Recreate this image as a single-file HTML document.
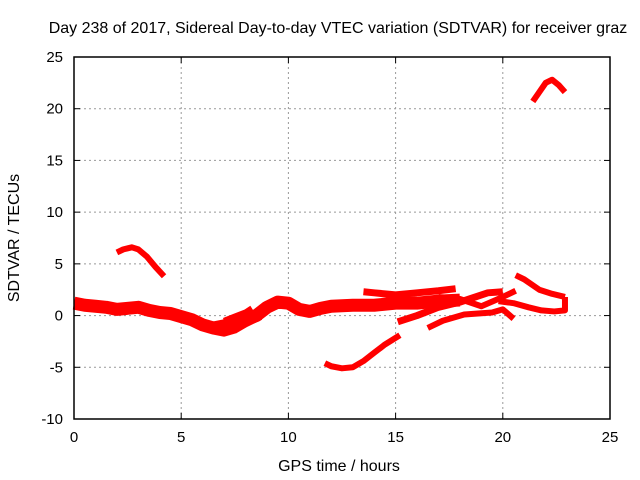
<!DOCTYPE html>
<html><head><meta charset="utf-8"><style>
body{margin:0;background:#fff}
svg{display:block;font-family:"Liberation Sans",sans-serif}
</style></head><body>
<svg id="chart" width="640" height="480">
<text x="338" y="33" font-size="16" text-anchor="middle">Day 238 of 2017, Sidereal Day-to-day VTEC variation (SDTVAR) for receiver graz</text>
<g id="grid"></g><g id="series"></g><g id="axes"></g>
<text x="339" y="471" font-size="16" text-anchor="middle">GPS time / hours</text>
<text transform="translate(19,238) rotate(-90)" font-size="16" text-anchor="middle">SDTVAR / TECUs</text>
</svg>
<script>
const xTicks=[0,5,10,15,20,25];
const yTicks=[-10,-5,0,5,10,15,20,25];
const trackMain=[[0,1.2],[0.5,1.0],[1,0.9],[1.5,0.8],[2,0.6],[2.5,0.7],[3,0.8],[3.5,0.5],[4,0.3],[4.5,0.2],[5,-0.1],[5.5,-0.4],[6,-0.9],[6.5,-1.2],[7,-1.0],[7.5,-0.6],[8,-0.4],[8.5,0.0],[9,0.8],[9.5,1.3],[10,1.2],[10.5,0.6],[11,0.4],[11.5,0.7],[12,0.9],[13,1.0],[14,1.0],[15,1.2],[16,1.2],[17,1.4],[18,1.5]];
const trackLow=[[6.5,-1.5],[7,-1.7],[7.5,-1.4],[8,-0.8],[8.3,-0.5],[8.7,-0.1]];
const trackUp=[[7,-0.5],[7.5,-0.1],[8,0.3],[8.3,0.7]];
const trackArc=[[2,6.1],[2.3,6.4],[2.7,6.6],[3.0,6.4],[3.4,5.7],[3.8,4.7],[4.2,3.8]];
const trackNeg=[[11.7,-4.6],[12,-4.9],[12.5,-5.1],[13,-5.0],[13.5,-4.4],[14,-3.6],[14.5,-2.8],[15.2,-1.9]];
const trackHigh=[[13.5,2.3],[14,2.2],[15,2.0],[16,2.2],[17,2.4],[17.8,2.6]];
const trackRise=[[15.1,-0.6],[16,0],[17,0.8],[18,1.3],[19.3,2.2],[20,2.3]];
const trackRise2=[[16.5,-1.2],[17.2,-0.5],[18.2,0.1],[19.5,0.3],[20,0.6],[20.5,-0.3]];
const trackMid=[[17,1.8],[18,1.6],[19,0.9],[20,1.8],[20.6,2.4]];
const trackLate=[[20.6,3.9],[21,3.5],[21.7,2.5],[22.3,2.1],[22.9,1.8]];
const trackLate2=[[19.8,1.4],[20.5,1.2],[21.2,0.8],[21.8,0.5],[22.4,0.4],[22.9,0.5],[22.9,1.8]];
const trackTop=[[21.4,20.7],[21.7,21.6],[22.0,22.5],[22.3,22.8],[22.6,22.3],[22.9,21.6]];
const tracks=[[trackMain,13],[trackLow,7],[trackUp,6],[trackArc,6],[trackNeg,6],[trackHigh,7],[trackRise,7],[trackRise2,6],[trackMid,6],[trackLate,6],[trackLate2,6],[trackTop,6]];
const X0=74,X1=610,Y0=419,Y1=57;
const sx=v=>X0+(v-0)/25*(X1-X0);
const sy=v=>Y0-(v+10)/35*(Y0-Y1);
const NS="http://www.w3.org/2000/svg";
function mk(tag,attrs,parent){const e=document.createElementNS(NS,tag);for(const k in attrs)e.setAttribute(k,attrs[k]);parent.appendChild(e);return e;}
const grid=document.getElementById('grid'),axes=document.getElementById('axes'),ser=document.getElementById('series');
xTicks.forEach(t=>{
  if(t>0&&t<25){const l=mk('line',{x1:sx(t),x2:sx(t),y1:Y1,y2:Y0,stroke:'#999','stroke-dasharray':'2,3'},grid);
  
  }
  mk('line',{x1:sx(t),x2:sx(t),y1:Y0,y2:Y0-6,stroke:'#000'},axes);
  mk('line',{x1:sx(t),x2:sx(t),y1:Y1,y2:Y1+6,stroke:'#000'},axes);
  const tx=mk('text',{x:sx(t),y:Y0+23,'font-size':15,'text-anchor':'middle'},axes);tx.textContent=t;
  
  
});
yTicks.forEach(t=>{
  if(t>-10&&t<25){const l=mk('line',{x1:X0,x2:X1,y1:sy(t),y2:sy(t),stroke:'#999','stroke-dasharray':'2,3'},grid);
  
  }
  mk('line',{x1:X0,x2:X0+6,y1:sy(t),y2:sy(t),stroke:'#000'},axes);
  mk('line',{x1:X1,x2:X1-6,y1:sy(t),y2:sy(t),stroke:'#000'},axes);
  const tx=mk('text',{x:X0-11,y:sy(t)+5,'font-size':15,'text-anchor':'end'},axes);tx.textContent=t;
  
  
});
const fr=mk('rect',{x:X0,y:Y1,width:X1-X0,height:Y0-Y1,fill:'none',stroke:'#000','stroke-width':1.5},axes);


tracks.forEach(([pts,w])=>{
  const p=mk('polyline',{points:pts.map(q=>sx(q[0])+','+sy(q[1])).join(' '),fill:'none',stroke:'#f00','stroke-width':w,'stroke-linejoin':'round'},ser);
  
  
});
</script>
</body></html>
